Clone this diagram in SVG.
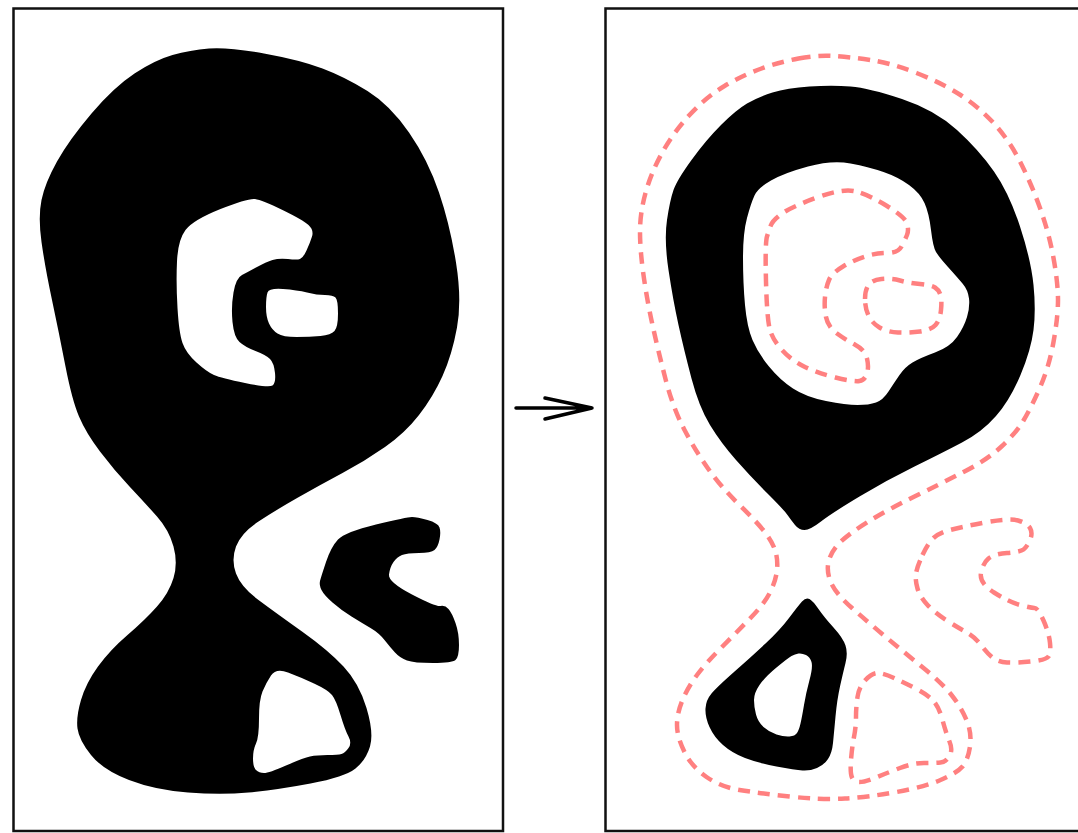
<svg xmlns="http://www.w3.org/2000/svg" width="1078" height="833" viewBox="0 0 1078 833">
<style>
.panel{fill:#fff;stroke:#111;stroke-width:2.5}
.blob{fill:#000;fill-rule:evenodd}
.dash{fill:none;stroke:#ff8080;stroke-width:4.5;stroke-dasharray:12 8;stroke-linecap:butt}
.arrow{fill:none;stroke:#000;stroke-width:3.5;stroke-linecap:round;stroke-linejoin:miter}
</style>
<rect width="1078" height="833" fill="#fff"/>
<g id="left-panel">
<rect class="panel" x="13.5" y="8.5" width="489.5" height="822.5"/>
<path class="blob" d="M209,48.5 Q228,47 264,53.5 Q300,60 322.5,68.5 Q345,77 367.5,91 Q390,105 409,132.5 Q428,160 439,192.5 Q450,225 456,262.5 Q462,300 457,327.5 Q452,355 442.5,376 Q433,397 419,415 Q405,433 385,447 Q365,461 342.5,473 Q320,485 298,497.5 Q276,510 258.5,521.5 Q241,533 236,546.5 Q231,560 236,573.5 Q241,587 258.5,600 Q276,613 302,631.5 Q328,650 343.5,666.5 Q359,683 366.5,708 Q374,733 370,746.5 Q366,760 355.5,768.5 Q345,777 310.5,783.5 Q276,790 248.5,792.5 Q221,795 188,792.5 Q155,790 129,780 Q103,770 91,755 Q79,740 77.5,728.5 Q76,717 81,700 Q86,683 98,666.5 Q110,650 127.5,635 Q145,620 157,606.5 Q169,593 173.5,578 Q178,563 173.5,546.5 Q169,530 157,516.5 Q145,503 129.5,486.5 Q114,470 100,451.5 Q86,433 79,416.5 Q72,400 65.5,366.5 Q59,333 52,300 Q45,267 41.5,242 Q38,217 41.5,200 Q45,183 57,161.5 Q69,140 91.5,113.5 Q114,87 134.5,73.5 Q155,60 172.5,55 Q190,50 209,48.5 Z
M177,261.5 Q178,240 185.5,230 Q193,220 220.5,209 Q248,198 255,199 Q262,200 282.5,210 Q303,220 308.5,225 Q314,230 312,236.5 Q310,243 306.5,250.5 Q303,258 300,259 Q297,260 288,259 Q279,258 272.5,260 Q266,262 257,267 Q248,272 242,275 Q236,278 233.5,292.5 Q231,307 232.5,322 Q234,337 239.5,342 Q245,347 255.5,351 Q266,355 270,359 Q274,363 275,373 Q276,383 272.5,385.5 Q269,388 245,383 Q221,378 214,375 Q207,372 196.5,362.5 Q186,353 182.5,343 Q179,333 177.5,308 Q176,283 177,261.5 Z
M267.5,292.5 Q269,288 283,289 Q297,290 307,292.5 Q317,295 325,295 Q333,295 335.5,297.5 Q338,300 338,313.5 Q338,327 334.5,331 Q331,335 320.5,336 Q310,337 296.5,337 Q283,337 277.5,333.5 Q272,330 269,323.5 Q266,317 266,307 Q266,297 267.5,292.5 Z
M271,675.5 Q276,668 288,672.5 Q300,677 314,683.5 Q328,690 332,695 Q336,700 340.5,715 Q345,730 348.5,736.5 Q352,743 348.5,748 Q345,753 341.5,754 Q338,755 327.5,755 Q317,755 310,756.5 Q303,758 286,765.5 Q269,773 264,773 Q259,773 256,770 Q253,767 253,758.5 Q253,750 256,743.5 Q259,737 259,718.5 Q259,700 262.5,691.5 Q266,683 271,675.5 Z"/>
<path class="blob" d="M326,562 Q331,547 338,539.5 Q345,532 376,524.5 Q407,517 412,517 Q417,517 427.5,520 Q438,523 439.5,527.5 Q441,532 439.5,539.5 Q438,547 434.5,550 Q431,553 419,553 Q407,553 402,555 Q397,557 393.5,562 Q390,567 389,574.5 Q388,582 412,594.5 Q436,607 440.5,606 Q445,605 448.5,609 Q452,613 455.5,623 Q459,633 459,645 Q459,657 455.5,660 Q452,663 433,663 Q414,663 407,660.5 Q400,658 395,652.5 Q390,647 384.5,640 Q379,633 370.5,628 Q362,623 351.5,616.5 Q341,610 332.5,602.5 Q324,595 321.5,590 Q319,585 320,581 Q321,577 326,562 Z"/>
</g>
<g id="connectors">
<path class="arrow" d="M516,408 L592,408 M545,398 L592,408 L545,419"/>
</g>
<g id="right-panel">
<rect class="panel" x="605.5" y="8.5" width="500" height="822.5"/>
<path class="blob" d="M809.5,86.5 Q832,85 850.5,86.5 Q869,88 902,99 Q935,110 957,130 Q979,150 994,171.5 Q1009,193 1020,226.5 Q1031,260 1033.5,285 Q1036,310 1033.5,330 Q1031,350 1020.5,375 Q1010,400 996,416 Q982,432 962,442.5 Q942,453 914.5,466.5 Q887,480 859.5,496.5 Q832,513 821,521.5 Q810,530 804.5,530 Q799,530 795,525 Q791,520 787.5,515 Q784,510 767.5,493.5 Q751,477 736,460 Q721,443 710,425 Q699,407 691.5,378.5 Q684,350 678.5,325 Q673,300 668.5,270 Q664,240 667,220 Q670,200 673.5,190 Q677,180 691.5,160 Q706,140 721,125 Q736,110 747,103.5 Q758,97 772.5,92.5 Q787,88 809.5,86.5 Z
M754.5,195.5 Q758,188 771,180.5 Q784,173 808,166.5 Q832,160 850.5,163.5 Q869,167 883.5,172 Q898,177 909,185 Q920,193 924.5,203 Q929,213 931,230 Q933,247 936,252 Q939,257 948,267 Q957,277 962.5,283.5 Q968,290 969,298.5 Q970,307 967,317 Q964,327 957,337 Q950,347 935,352.5 Q920,358 912.5,362.5 Q905,367 899.5,375 Q894,383 888.5,391.5 Q883,400 876,402.5 Q869,405 857.5,405 Q846,405 826,401 Q806,397 793,388.5 Q780,380 769,366.5 Q758,353 752.5,340 Q747,327 745,305 Q743,283 743,258 Q743,233 747,218 Q751,203 754.5,195.5 Z"/>
<path class="blob" d="M802,601.5 Q806,597 809.5,599 Q813,601 818.5,609 Q824,617 833.5,627.5 Q843,638 845.5,645.5 Q848,653 845.5,663 Q843,673 840,686.5 Q837,700 835.5,716.5 Q834,733 833,743 Q832,753 828,759 Q824,765 817,768 Q810,771 802.5,770.5 Q795,770 776.5,766.5 Q758,763 745,758 Q732,753 723,745 Q714,737 709.5,727 Q705,717 705.5,708.5 Q706,700 711.5,693.5 Q717,687 734,672 Q751,657 765.5,643.5 Q780,630 789,618 Q798,606 802,601.5 Z
M798.5,653.5 Q802,653 806,655 Q810,657 811.5,662 Q813,667 809.5,680 Q806,693 804,705 Q802,717 800.5,723.5 Q799,730 797,733 Q795,736 789.5,736.5 Q784,737 776.5,734.5 Q769,732 763.5,727 Q758,722 756,714.5 Q754,707 754,700 Q754,693 759.5,685 Q765,677 776.5,667.5 Q788,658 791.5,656 Q795,654 798.5,653.5 Z"/>
<path class="dash" d="M798.5,58.5 Q817,55 833.5,56 Q850,57 870.5,60 Q891,63 916.5,73 Q942,83 960.5,95 Q979,107 994,123.5 Q1009,140 1020,161.5 Q1031,183 1040,208 Q1049,233 1053.5,258 Q1058,283 1058,300 Q1058,317 1053.5,342 Q1049,367 1040,387.5 Q1031,408 1023.5,420.5 Q1016,433 1001.5,446.5 Q987,460 964.5,471.5 Q942,483 914.5,496.5 Q887,510 868.5,521.5 Q850,533 841,541.5 Q832,550 829,560 Q826,570 830.5,581.5 Q835,593 852,608 Q869,623 887,638 Q905,653 923.5,668 Q942,683 951.5,695 Q961,707 966.5,720 Q972,733 970,746.5 Q968,760 962.5,766.5 Q957,773 940.5,780 Q924,787 896.5,792 Q869,797 845,798.5 Q821,800 789.5,796.5 Q758,793 739.5,790 Q721,787 706.5,777 Q692,767 684.5,752 Q677,737 677,725 Q677,713 682.5,700 Q688,687 697,675 Q706,663 721,648 Q736,633 750.5,618 Q765,603 770.5,591.5 Q776,580 777,570 Q778,560 775.5,551.5 Q773,543 765.5,533 Q758,523 739.5,505 Q721,487 708,468.5 Q695,450 684,429 Q673,408 665.5,379 Q658,350 652.5,325 Q647,300 643.5,275 Q640,250 640,231.5 Q640,213 645.5,193 Q651,173 662,153 Q673,133 689.5,115 Q706,97 724.5,86 Q743,75 761.5,68.5 Q780,62 798.5,58.5 Z"/>
<path class="dash" d="M771,225 Q773,220 782,213.5 Q791,207 817,197.5 Q843,188 856,191.5 Q869,195 887,206 Q905,217 907,223.5 Q909,230 907,235 Q905,240 901.5,246.5 Q898,253 887,253 Q876,253 865,256.5 Q854,260 843,266.5 Q832,273 829,280 Q826,287 825,297 Q824,307 826,317 Q828,327 837,333.5 Q846,340 855.5,345 Q865,350 867,358.5 Q869,367 867,373.5 Q865,380 859.5,381 Q854,382 835.5,377.5 Q817,373 804,366.5 Q791,360 782,350 Q773,340 770,330 Q767,320 766,281.5 Q765,243 767,236.5 Q769,230 771,225 Z"/>
<path class="dash" d="M865,299 Q865,290 868.5,285 Q872,280 881.5,279 Q891,278 900,280.5 Q909,283 920,284 Q931,285 935,287.5 Q939,290 940.5,295 Q942,300 941,310 Q940,320 935.5,325 Q931,330 920,331.5 Q909,333 898,332.5 Q887,332 879.5,327.5 Q872,323 868.5,315.5 Q865,308 865,299 Z"/>
<path class="dash" d="M922.5,555 Q928,543 933.5,538 Q939,533 950,530 Q961,527 985,522.5 Q1009,518 1018,520.5 Q1027,523 1030,528 Q1033,533 1030,540 Q1027,547 1023.5,549.5 Q1020,552 1007,553 Q994,554 988.5,558.5 Q983,563 981,573 Q979,583 994,592.5 Q1009,602 1020,605 Q1031,608 1034.5,608 Q1038,608 1043.5,620.5 Q1049,633 1050,643 Q1051,653 1048.5,656.5 Q1046,660 1031,661.5 Q1016,663 1007,662.5 Q998,662 992.5,657.5 Q987,653 981,645 Q975,637 966,632 Q957,627 946,620 Q935,613 927.5,605 Q920,597 917.5,588.5 Q915,580 916,573.5 Q917,567 922.5,555 Z"/>
<path class="dash" d="M865.5,680 Q872,673 877.5,673 Q883,673 894,678 Q905,683 916.5,689 Q928,695 933.5,701 Q939,707 942.5,720 Q946,733 949.5,741.5 Q953,750 949.5,756 Q946,762 940.5,762.5 Q935,763 924,763 Q913,763 900,768 Q887,773 876,777.5 Q865,782 859.5,782 Q854,782 852,777.5 Q850,773 851,760 Q852,747 854,737 Q856,727 856,717 Q856,707 857.5,697 Q859,687 865.5,680 Z"/>
</g>
</svg>
